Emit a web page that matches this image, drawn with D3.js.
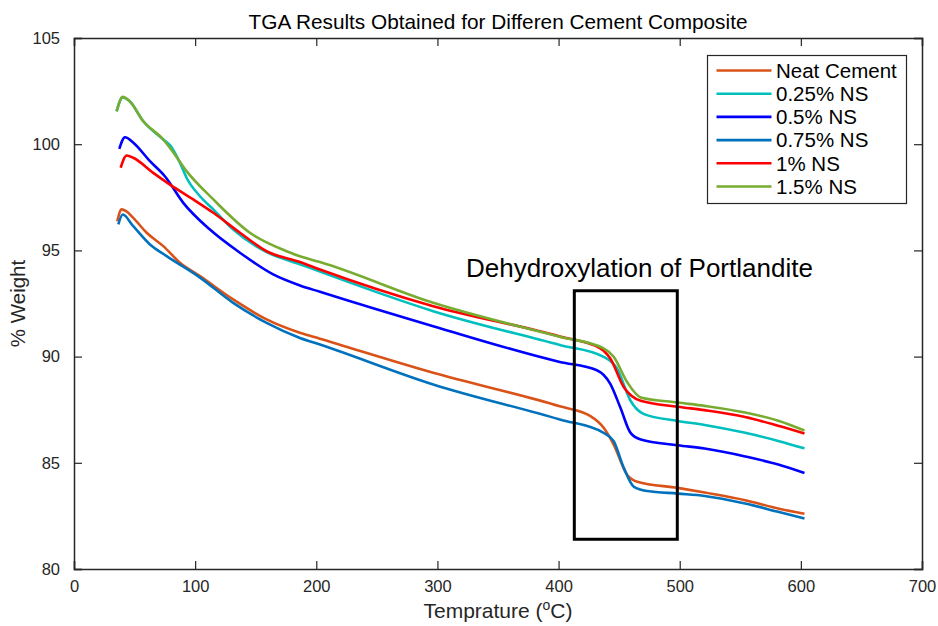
<!DOCTYPE html>
<html>
<head>
<meta charset="utf-8">
<script src="https://cdn.jsdelivr.net/npm/d3@7"></script>
<style>
  body { margin: 0; background: #fff; }
  svg { font-family: "Liberation Sans", Arial, sans-serif; }
</style>
</head>
<body>
<svg id="chart" width="938" height="626"></svg>
<script>
// series: [temperature, weight]
const neatCement = [[35.7,96.37],[39.3,96.93],[43,96.85],[48.9,96.53],[60,95.83],[73.7,95.2],[87.5,94.42],[104,93.79],[131.4,92.69],[159,91.75],[186.5,91.12],[203,90.84],[296.5,89.24],[401,87.66],[426,87.21],[437.2,86.65],[445.5,85.86],[456.7,84.43],[465,84.11],[498.4,83.82],[520.6,83.6],[554,83.24],[582,82.84],[603,82.6]];
const ns025 = [[35.2,101.55],[40.2,102.2],[45.8,102.03],[57.2,101.08],[73.7,100.22],[80,99.9],[87.5,99.12],[92.9,98.42],[104,97.55],[115,96.93],[131.4,95.98],[159,94.92],[186.5,94.35],[203,94.0],[296.5,92.14],[401,90.55],[437.2,89.99],[448.3,89.43],[459.4,87.92],[470.5,87.29],[498.4,86.97],[520.6,86.78],[554,86.41],[582,86.02],[603,85.68]];
const ns05 = [[37.4,99.78],[42.1,100.33],[49,100.07],[62.7,99.2],[75,98.49],[90.2,97.24],[112.2,95.98],[137,94.89],[164.4,93.87],[186.5,93.35],[203,93.05],[296.5,91.43],[401,89.75],[431.6,89.36],[442.7,88.72],[451,87.6],[459.4,86.41],[467.8,86.1],[498.4,85.83],[520.6,85.67],[554,85.3],[582,84.91],[603,84.52]];
const ns075 = [[36.6,96.22],[40.2,96.69],[48.9,96.14],[62.7,95.28],[76.5,94.73],[104,93.72],[131.4,92.53],[159,91.59],[186.5,90.88],[203,90.57],[296.5,88.69],[401,87.04],[437.2,86.41],[445.5,86.02],[453.9,84.75],[462.2,83.87],[473.4,83.67],[498.4,83.55],[520.6,83.44],[554,83.08],[582,82.68],[603,82.38]];
const ns1 = [[38.5,98.89],[43.5,99.47],[48.9,99.36],[65.4,98.65],[79.2,98.1],[98.4,97.4],[115,96.77],[137,95.83],[159,94.96],[186.5,94.45],[203,94.1],[296.5,92.37],[401,90.95],[434.4,90.39],[442.7,89.91],[453.9,88.56],[467.8,87.92],[498.4,87.64],[520.6,87.48],[554,87.16],[582,86.73],[603,86.38]];
const ns15 = [[35.2,101.55],[40.2,102.23],[45.8,102.03],[57.2,101.08],[73.7,100.22],[80.2,99.75],[92.9,98.73],[115,97.4],[145.2,95.83],[175.5,94.96],[186.5,94.72],[203,94.45],[296.5,92.53],[401,90.93],[437.2,90.39],[445.5,89.99],[456.7,88.79],[467.8,88.08],[498.4,87.84],[520.6,87.68],[554,87.37],[582,86.97],[603,86.52]];

const seriesNames = ["Neat Cement", "0.25% NS", "0.5% NS", "0.75% NS", "1% NS", "1.5% NS"];
const seriesData = [neatCement, ns025, ns05, ns075, ns1, ns15];
const seriesColors = ["#D95319", "#00BFBF", "#0000FF", "#0072BD", "#FF0000", "#77AC30"];

const xTicks = [0, 100, 200, 300, 400, 500, 600, 700];
const yTicks = [80, 85, 90, 95, 100, 105];

// annotation rectangle in data units
const boxX = [413, 498];
const boxY = [81.4, 93.1];
const boxLabel = "Dehydroxylation of Portlandite";

const svg = d3.select("#chart");
const margin = { left: 74, right: 16, top: 38, bottom: 57 };
const W = 938, H = 626;

const x = d3.scaleLinear().domain([0, 700]).range([margin.left, W - margin.right]);
const y = d3.scaleLinear().domain([80, 105]).range([H - margin.bottom, margin.top]);

const axisColor = "#262626";
const tickLen = 8;

// axes (box with inward ticks)
const xAxis = svg.append("g").attr("transform", `translate(0,${y(80)})`)
  .call(d3.axisBottom(x).tickValues(xTicks).tickSize(-tickLen).tickPadding(tickLen + 3));
const xAxisTop = svg.append("g").attr("transform", `translate(0,${y(105)})`)
  .call(d3.axisTop(x).tickValues(xTicks).tickSize(-tickLen).tickFormat(""));
const yAxis = svg.append("g").attr("transform", `translate(${x(0)},0)`)
  .call(d3.axisLeft(y).tickValues(yTicks).tickSize(-tickLen).tickPadding(tickLen + 6));
const yAxisRight = svg.append("g").attr("transform", `translate(${x(700)},0)`)
  .call(d3.axisRight(y).tickValues(yTicks).tickSize(-tickLen).tickFormat(""));

[xAxis, xAxisTop, yAxis, yAxisRight].forEach(g => {
  g.select(".domain").attr("stroke", axisColor).attr("stroke-width", 1.5);
  g.selectAll(".tick line").attr("stroke", axisColor).attr("stroke-width", 1.2);
  g.selectAll(".tick text").attr("fill", axisColor).style("font-size", "16.5px")
    .style("font-family", "'Liberation Sans', Arial, sans-serif");
});

// lines
const line = d3.line().x(d => x(d[0])).y(d => y(d[1])).curve(d3.curveMonotoneX);
svg.append("g").selectAll("path")
  .data(seriesData)
  .enter()
  .append("path")
  .attr("d", d => line(d))
  .attr("fill", "none")
  .attr("stroke", (d, i) => seriesColors[i])
  .attr("stroke-width", 2.6)
  .attr("stroke-linejoin", "round");

// annotation
svg.append("rect")
  .attr("x", x(boxX[0])).attr("y", y(boxY[1]))
  .attr("width", x(boxX[1]) - x(boxX[0]))
  .attr("height", y(boxY[0]) - y(boxY[1]))
  .attr("fill", "none").attr("stroke", "#000").attr("stroke-width", 3);
svg.append("text")
  .attr("x", 466).attr("y", 277)
  .style("font-size", "26px").attr("fill", "#000")
  .text(boxLabel);

// legend
const legend = svg.append("g");
legend.append("rect")
  .attr("x", 707.5).attr("y", 55.5).attr("width", 199).attr("height", 148)
  .attr("fill", "#fff").attr("stroke", axisColor).attr("stroke-width", 1.2);
const rows = legend.selectAll("g.row")
  .data(seriesNames)
  .enter()
  .append("g")
  .attr("class", "row")
  .attr("transform", (d, i) => `translate(0, ${70.5 + i * 23.2})`);
rows.append("line")
  .attr("x1", 716.5).attr("x2", 771.5)
  .attr("stroke", (d, i) => seriesColors[i]).attr("stroke-width", 2.6);
rows.append("text")
  .attr("x", 776).attr("dy", "0.36em")
  .style("font-size", "20.5px").attr("fill", "#000")
  .text(d => d);

// title and axis labels
svg.append("text")
  .attr("x", (x(0) + x(700)) / 2).attr("y", 29)
  .attr("text-anchor", "middle").style("font-size", "20.8px").attr("fill", "#000")
  .text("TGA Results Obtained for Differen Cement Composite");

const xl = svg.append("text")
  .attr("x", (x(0) + x(700)) / 2).attr("y", 618)
  .attr("text-anchor", "middle").style("font-size", "21px").attr("fill", axisColor);
xl.append("tspan").text("Temprature (");
xl.append("tspan").attr("dy", -8).style("font-size", "14px").text("o");
xl.append("tspan").attr("dy", 8).text("C)");

svg.append("text")
  .attr("transform", `translate(25, ${(y(80) + y(105)) / 2}) rotate(-90)`)
  .attr("text-anchor", "middle").style("font-size", "20.5px").attr("fill", axisColor)
  .text("% Weight");
</script>
</body>
</html>
